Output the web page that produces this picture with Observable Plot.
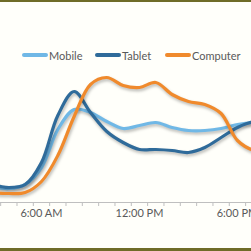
<!DOCTYPE html>
<html><head><meta charset="utf-8">
<script src="https://cdn.jsdelivr.net/npm/d3@7"></script>
<script src="https://cdn.jsdelivr.net/npm/@observablehq/plot@0.6"></script>
<style>
html,body{margin:0;padding:0;background:#fffffa;}
#wrap{position:relative;width:251px;height:251px;overflow:hidden;background:#fffffa;font-family:Lato,sans-serif;}
#topb{position:absolute;left:0;top:0;width:251px;height:2px;background:#6f6c28;}
#botb{position:absolute;left:0;top:248px;width:251px;height:3px;background:#6f6c28;}
#chart{position:absolute;left:0;top:0;}
.leg{position:absolute;top:48px;height:14px;display:flex;align-items:center;font-size:11px;color:#595959;white-space:nowrap;}
.sw{width:26px;height:4px;border-radius:2px;margin-right:1px;}
</style></head><body>
<div id="wrap"><div id="chart"></div><div id="legend"></div><div id="topb"></div><div id="botb"></div></div>
<script>
const hours    = [3, 4, 5, 6, 7, 8, 9, 10, 11, 12, 13, 14, 15, 16, 17, 18, 19, 20];
const mobile   = [16, 14, 18, 35, 73, 93, 90, 81, 74, 77, 80, 75, 72, 72, 74, 78, 80, 80];
const tablet   = [18, 15, 18, 40, 87, 111, 90, 71, 60, 53, 53, 52, 50, 55, 65, 75, 81, 82];
const computer = [10, 9, 10, 21, 47, 86, 118, 125, 117, 115, 120, 108, 101, 98, 89, 62, 52, 50];
const seriesNames  = ["Mobile", "Tablet", "Computer"];
const seriesColors = ["#70b8e6", "#2f6b9a", "#f08a2c"];
const tickHours  = [6, 12, 18];
const tickLabels = ["6:00 AM", "12:00 PM", "6:00 PM"];
const minorTicks = [3.5, 4.5, 5.5, 6.5, 7.5, 8.5, 9.5, 10.5, 11.5, 12.5, 13.5, 14.5, 15.5, 16.5, 17.5, 18.5, 19.5];

const seriesValues = [mobile, tablet, computer];
const rows = [];
seriesNames.forEach((s, i) => hours.forEach((h, j) => rows.push({series: s, hour: h, value: seriesValues[i][j]})));

const plot = Plot.plot({
  width: 251, height: 251,
  marginLeft: 0, marginRight: 0, marginTop: 52, marginBottom: 49,
  style: {background: "transparent", fontFamily: "Lato, sans-serif", fontSize: "11px", color: "#595959"},
  x: {type: "linear", domain: [3.49, 18.86], label: null},
  y: {domain: [0, 150], axis: null},
  color: {domain: seriesNames, range: seriesColors},
  marks: [
    Plot.axisX({ticks: minorTicks, tickFormat: () => "", tickSize: 4, stroke: "#bfbfbf", label: null}),
    Plot.axisX({ticks: tickHours, tickFormat: d => tickLabels[tickHours.indexOf(d)], tickSize: 0, tickPadding: 7, fill: "#595959", label: null}),
    Plot.ruleY([0], {stroke: "#bfbfbf"}),
    Plot.line(rows, {x: "hour", y: "value", z: "series", stroke: "series", strokeWidth: 3.2, curve: "catmull-rom", clip: true, strokeLinecap: "round"})
  ]
});
plot.querySelectorAll('g[aria-label="line"] path').forEach(p => p.style.filter = "drop-shadow(1px 2px 1.5px rgba(0,0,0,0.28))");
document.getElementById("chart").appendChild(plot);

const legendLeft = [22, 95, 165];
const legend = document.getElementById("legend");
seriesNames.forEach((s, i) => {
  const d = document.createElement("div");
  d.className = "leg";
  d.style.left = legendLeft[i] + "px";
  d.innerHTML = `<span class="sw" style="background:${seriesColors[i]}"></span><span>${s}</span>`;
  legend.appendChild(d);
});
</script>
</body></html>
